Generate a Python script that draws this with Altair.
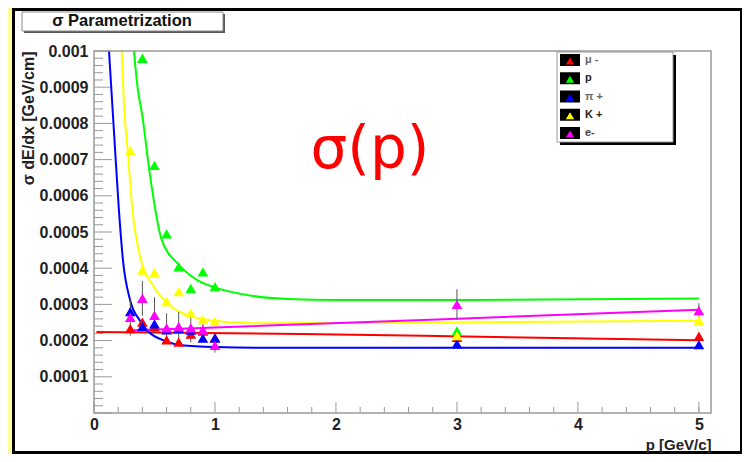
import altair as alt
import pandas as pd

# ---------------- values ----------------
series = ["μ -", "p", "π +", "K +", "e-"]
colors = ["#ff0000", "#00ff00", "#0000ff", "#ffff00", "#ff00ff"]
legend_text_colors = ["#666666", "#222222", "#666666", "#222222", "#444444"]

# measured points
mu_p = [0.3, 0.4, 0.5, 0.6, 0.7, 0.8, 0.9, 1.0, 3.0, 5.0]
mu_s = [0.000233, 0.000251, 0.000238, 0.000202, 0.000196, 0.000218, 0.000226, 0.000208, 0.000209, 0.000212]
pr_p = [0.4, 0.5, 0.6, 0.7, 0.8, 0.9, 1.0, 3.0]
pr_s = [0.00098, 0.000684, 0.000495, 0.000404, 0.000344, 0.00039, 0.000349, 0.000227]
pi_p = [0.3, 0.4, 0.5, 0.6, 0.7, 0.8, 0.9, 1.0, 3.0, 5.0]
pi_s = [0.00028, 0.000239, 0.000246, 0.00023, 0.000233, 0.000229, 0.000207, 0.000207, 0.000191, 0.000189]
k_p = [0.3, 0.4, 0.5, 0.6, 0.7, 0.8, 0.9, 1.0, 3.0, 5.0]
k_s = [0.000725, 0.000395, 0.000388, 0.000308, 0.000335, 0.000276, 0.000258, 0.000253, 0.000214, 0.000256]
e_p = [0.3, 0.4, 0.5, 0.6, 0.7, 0.8, 0.9, 1.0, 3.0, 5.0]
e_s = [0.000264, 0.000317, 0.00027, 0.000235, 0.000239, 0.000235, 0.00023, 0.000187, 0.0003, 0.000283]
e_err = [0.00005, 0.000048, 0.00005, 0.00004, 0.00004, 0.00004, 0.00002, 0.00002, 0.000042, 0.00002]

# parametrization curves
mu_fit_p = [0.02, 1.72, 2.95, 5.0]
mu_fit_s = [0.000224, 0.000218, 0.000212, 0.000201]
pr_fit_p = [0.33, 0.36, 0.40, 0.46, 0.557, 0.7, 0.85, 1.0, 1.3, 1.6, 2.0, 3.0, 5.0]
pr_fit_s = [0.001, 0.0009, 0.00082, 0.000664, 0.000481, 0.00041, 0.000368, 0.000347, 0.000324,
            0.000315, 0.000312, 0.000312, 0.000316]
pi_fit_p = [0.124, 0.17, 0.204, 0.24, 0.3, 0.38, 0.44, 0.6, 0.72, 1.0, 1.5, 3.0, 5.0]
pi_fit_s = [0.001, 0.00075, 0.00057, 0.00042, 0.00031, 0.000255, 0.000228, 0.000198, 0.000187,
            0.000182, 0.00018, 0.00018, 0.00018]
k_fit_p = [0.229, 0.248, 0.28, 0.315, 0.378, 0.5, 0.6, 0.8, 1.0, 1.3, 3.0, 5.0]
k_fit_s = [0.001, 0.00085, 0.00072, 0.00057, 0.000436, 0.000346, 0.000305, 0.000267, 0.000255,
           0.000248, 0.00025, 0.000255]
e_fit_p = [0.3, 0.89, 2.95, 5.0]
e_fit_s = [0.000228, 0.000235, 0.00026, 0.000285]

# axes
x_major = [0, 1, 2, 3, 4, 5]
x_minor = [0.2, 0.4, 0.6, 0.8, 1.2, 1.4, 1.6, 1.8, 2.2, 2.4, 2.6, 2.8,
           3.2, 3.4, 3.6, 3.8, 4.2, 4.4, 4.6, 4.8, 5.0]
y_major = [0.0, 0.0001, 0.0002, 0.0003, 0.0004, 0.0005, 0.0006, 0.0007, 0.0008, 0.0009, 0.001]
y_minor = [round(0.00002 * i, 6) for i in range(51) if i % 5]

title_text = "σ Parametrization"
big_text = "σ(p)"
x_title = "p [GeV/c]"
y_title = "σ dE/dx [GeV/cm]"

# ---------------- tables ----------------
pts = pd.concat([
    pd.DataFrame({"p": mu_p, "s": mu_s, "series": series[0]}),
    pd.DataFrame({"p": pr_p, "s": pr_s, "series": series[1]}),
    pd.DataFrame({"p": pi_p, "s": pi_s, "series": series[2]}),
    pd.DataFrame({"p": k_p, "s": k_s, "series": series[3]}),
    pd.DataFrame({"p": e_p, "s": e_s, "series": series[4]}),
], ignore_index=True)
pts["order"] = range(len(pts))

fits = pd.concat([
    pd.DataFrame({"p": mu_fit_p, "s": mu_fit_s, "series": series[0]}),
    pd.DataFrame({"p": pr_fit_p, "s": pr_fit_s, "series": series[1]}),
    pd.DataFrame({"p": pi_fit_p, "s": pi_fit_s, "series": series[2]}),
    pd.DataFrame({"p": k_fit_p, "s": k_fit_s, "series": series[3]}),
    pd.DataFrame({"p": e_fit_p, "s": e_fit_s, "series": series[4]}),
], ignore_index=True)

errs = pd.DataFrame({"p": e_p,
                     "lo": [v - d for v, d in zip(e_s, e_err)],
                     "hi": [v + d for v, d in zip(e_s, e_err)]})

one = pd.DataFrame({"k": [0]})

W, H = 617, 362
FONT = "Liberation Sans"
AX = "#9a9a9a"

xs = alt.Scale(domain=[0, 5.1], nice=False, zero=False)
ys = alt.Scale(domain=[0, 0.001], nice=False, zero=False)

xaxis = alt.Axis(values=x_major, format="d", ticks=False, tickSize=0, domain=False, grid=False,
                 labelFont=FONT, labelFontSize=16, labelFontWeight="bold", labelColor="#222222",
                 labelPadding=3, labelOverlap=False, labelFlush=False, zindex=2,
                 title=x_title, titleFont=FONT, titleFontSize=15, titleFontWeight="bold",
                 titleColor="#222222", titleAnchor="end", titleAlign="right", titleX=W, titleY=36,
                 titleBaseline="alphabetic")
yaxis = alt.Axis(values=y_major, labelExpr="datum.value < 1e-9 ? '' : format(datum.value, '.4~f')",
                 ticks=False, tickSize=0, domain=False, grid=False, zindex=2,
                 labelFont=FONT, labelFontSize=16, labelFontWeight="bold", labelColor="#222222",
                 labelPadding=6, labelOverlap=False, labelFlush=False,
                 title=y_title, titleFont=FONT, titleFontSize=16, titleFontWeight="bold",
                 titleColor="#222222", titleAngle=-90, titleAlign="right", titleX=-61, titleY=0,
                 titleBaseline="alphabetic")

X = alt.X("p:Q", scale=xs, axis=xaxis)
Y = alt.Y("s:Q", scale=ys, axis=yaxis)
C = alt.Color("series:N", scale=alt.Scale(domain=series, range=colors), legend=None)

# ---------------- decorations ----------------
frame = alt.Chart(one).mark_rect(fill="white", stroke="black", strokeWidth=3).encode(
    x=alt.value(-80.5), x2=alt.value(647.5), y=alt.value(-41.5), y2=alt.value(401.5))

title_shadow = alt.Chart(one).mark_rect(fill="#555555").encode(
    x=alt.value(-70), x2=alt.value(131), y=alt.value(-37), y2=alt.value(-18))
title_box = alt.Chart(one).mark_rect(fill="white", stroke="#8a8a8a", strokeWidth=1).encode(
    x=alt.value(-72), x2=alt.value(129), y=alt.value(-39), y2=alt.value(-20))
title = alt.Chart(one).mark_text(text=title_text, font=FONT, fontSize=16.5, fontWeight="bold",
                                 color="#111111", align="center", baseline="alphabetic").encode(
    x=alt.value(28), y=alt.value(-25))

# inward ticks
xt_major = alt.Chart(pd.DataFrame({"p": x_major})).mark_rule(color=AX, strokeWidth=1).encode(
    x=X, y=alt.value(H), y2=alt.value(H - 11))
xt_minor = alt.Chart(pd.DataFrame({"p": x_minor})).mark_rule(color=AX, strokeWidth=1).encode(
    x=X, y=alt.value(H), y2=alt.value(H - 6))
yt_major = alt.Chart(pd.DataFrame({"s": y_major})).mark_rule(color=AX, strokeWidth=1).encode(
    y=Y, x=alt.value(0), x2=alt.value(18))
yt_minor = alt.Chart(pd.DataFrame({"s": y_minor})).mark_rule(color=AX, strokeWidth=1).encode(
    y=Y, x=alt.value(0), x2=alt.value(9))

# ---------------- data layers ----------------
lines = alt.Chart(fits).mark_line(strokeWidth=2, interpolate="monotone", clip=True).encode(
    x=X, y=Y, color=C, detail="series:N")

ebars = alt.Chart(errs).mark_rule(color="#555555", strokeWidth=1).encode(
    x=X, y=alt.Y("lo:Q", scale=ys, axis=yaxis), y2="hi:Q")

markers = alt.Chart(pts).mark_point(shape="triangle-up", filled=True, size=115, opacity=1).encode(
    x=X, y=Y, color=C, order="order:Q")

big = alt.Chart(one).mark_text(text=big_text, font="DejaVu Sans", fontSize=58, color="#ff0000",
                               align="center", baseline="alphabetic").encode(
    x=alt.value(276), y=alt.value(117))

# ---------------- legend ----------------
leg = [
    alt.Chart(one).mark_rect(fill="black").encode(
        x=alt.value(466), x2=alt.value(582), y=alt.value(4), y2=alt.value(94)),
    alt.Chart(one).mark_rect(fill="white", stroke="#999999", strokeWidth=1).encode(
        x=alt.value(463), x2=alt.value(579), y=alt.value(1), y2=alt.value(91)),
]
for i, (name, col, tcol) in enumerate(zip(series, colors, legend_text_colors)):
    cy = 9 + 18.25 * i
    leg.append(alt.Chart(one).mark_rect(fill="black").encode(
        x=alt.value(466), x2=alt.value(486), y=alt.value(cy - 6), y2=alt.value(cy + 6)))
    leg.append(alt.Chart(one).mark_point(shape="triangle-up", filled=True, size=70, color=col,
                                         opacity=1).encode(x=alt.value(476), y=alt.value(cy + 1)))
    leg.append(alt.Chart(one).mark_text(text=name, font=FONT, fontSize=11, fontWeight="bold",
                                        color=tcol, align="left", baseline="middle").encode(
        x=alt.value(491), y=alt.value(cy)))

plot_frame = alt.Chart(one).mark_rect(fillOpacity=0, stroke=AX, strokeWidth=1.5).encode(
    x=alt.value(0), x2=alt.value(W), y=alt.value(0), y2=alt.value(H))

chart = alt.layer(
    frame, title_shadow, title_box, title,
    xt_major, xt_minor, yt_major, yt_minor,
    lines, ebars, markers, big, plot_frame, *leg,
).properties(
    width=W, height=H,
    autosize=alt.AutoSizeParams(type="none"),
    padding={"left": 86, "top": 43, "right": 31, "bottom": 41},
    background="#ffff99",
).configure_view(stroke="transparent")

chart.save("out.html", embed_options={"renderer": "svg", "actions": False})
